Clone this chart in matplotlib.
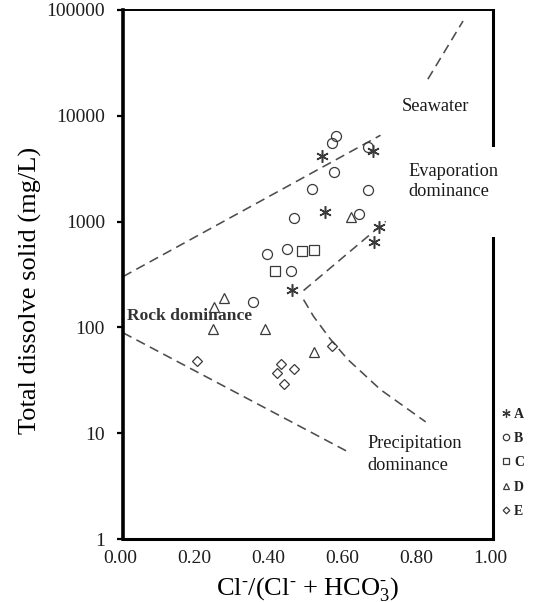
import matplotlib
matplotlib.use("Agg")
import matplotlib.pyplot as plt
from matplotlib.lines import Line2D
from matplotlib.patches import Rectangle
from matplotlib.ticker import NullLocator
import matplotlib.transforms as mtransforms

plt.rcParams['font.family'] = ['Liberation Serif', 'DejaVu Serif']
plt.rcParams['mathtext.fontset'] = 'custom'
plt.rcParams['mathtext.rm'] = 'Liberation Serif'
plt.rcParams['mathtext.it'] = 'Liberation Serif:italic'
plt.rcParams['mathtext.bf'] = 'Liberation Serif:bold'

# ---- data ----
x_A = [0.539, 0.675, 0.547, 0.691, 0.678, 0.458]
y_A = [4140, 4620, 1220, 880, 635, 228]

x_B = [0.575, 0.566, 0.661, 0.569, 0.512, 0.661, 0.461, 0.637, 0.390, 0.442, 0.455, 0.350]
y_B = [6410, 5500, 5050, 2920, 2020, 1970, 1070, 1170, 489, 545, 338, 172]

x_C = [0.485, 0.515, 0.412]
y_C = [522, 534, 338]

x_D = [0.615, 0.274, 0.247, 0.244, 0.385, 0.515]
y_D = [1100, 191, 157, 97, 97, 59]

x_E = [0.201, 0.428, 0.463, 0.415, 0.434, 0.566]
y_E = [48.5, 45, 40.7, 37.3, 29.4, 67]

# Gibbs boundary lines
rock_upper_x = [0.0, 0.696]
rock_upper_y = [302, 6550]
rock_lower_x = [0.0, 0.607]
rock_lower_y = [89, 6.7]
evap_x = [0.488, 0.710]
evap_y = [223, 1005]
precip_x = [0.488, 0.515, 0.561, 0.607, 0.696, 0.818]
precip_y = [183, 127, 77, 50, 25.8, 12.8]
sea_x = [0.824, 0.919]
sea_y = [22200, 78700]

xticks = [0.0, 0.2, 0.4, 0.6, 0.8, 1.0]
xticklabels = ['0.00', '0.20', '0.40', '0.60', '0.80', '1.00']
yticks = [1, 10, 100, 1000, 10000, 100000]
yticklabels = ['1', '10', '100', '1000', '10000', '100000']

groups = ['A', 'B', 'C', 'D', 'E']
markers = [(6, 2, 0), 'o', 's', '^', 'D']
sizes = [9.0, 7.2, 6.6, 7.2, 5.0]
xs = [x_A, x_B, x_C, x_D, x_E]
ys = [y_A, y_B, y_C, y_D, y_E]

# ---- figure ----
fig = plt.figure(figsize=(5.36, 6.02), dpi=100)
ax = fig.add_axes([123/536, 63/602, 370/536, 529/602])
ax.set_yscale('log')
ax.set_xlim(0, 1)
ax.set_ylim(1, 100000)

lc = '#4d4d4d'
dash = (6, 3.5)
for lx, ly in [(rock_upper_x, rock_upper_y), (rock_lower_x, rock_lower_y),
               (evap_x, evap_y), (precip_x, precip_y), (sea_x, sea_y)]:
    ax.plot(lx, ly, color=lc, lw=1.15, dashes=dash, zorder=2)

ec = '#3a3a3a'
for g, m, s, x, y in zip(groups, markers, sizes, xs, ys):
    ax.plot(x, y, linestyle='none', marker=m, markersize=s,
            markerfacecolor='none', markeredgecolor=ec,
            markeredgewidth=1.1 if g == 'A' else 0.9, zorder=3)

# ---- axes style ----
ax.set_xticks(xticks)
ax.set_xticklabels(xticklabels)
ax.set_yticks(yticks)
ax.set_yticklabels(yticklabels)
ax.yaxis.set_minor_locator(NullLocator())
ax.xaxis.set_minor_locator(NullLocator())
ax.tick_params(axis='x', length=0, pad=8, labelsize=14, labelcolor='#1e1e1e')
ax.tick_params(axis='y', length=4, width=1.6, direction='out', pad=9,
               labelsize=14, labelcolor='#1e1e1e')
off = mtransforms.ScaledTranslation(-3/100, 0, fig.dpi_scale_trans)
for lab in ax.get_xticklabels():
    lab.set_transform(lab.get_transform() + off)

ax.spines['left'].set_linewidth(2.6)
ax.spines['bottom'].set_linewidth(2.2)
ax.spines['top'].set_linewidth(1.4)
ax.spines['right'].set_linewidth(2.2)

# gap in right spine behind the "Evaporation dominance" label
ax.add_patch(Rectangle((0.95, 0.571), 0.08, 0.170, transform=ax.transAxes,
                       facecolor='white', edgecolor='none', clip_on=False,
                       zorder=3))

ax.set_xlabel(r'Cl$^{\text{-}}$/(Cl$^{\text{-}}$ + HCO$_{3}^{\text{-}}$)',
              fontsize=19, labelpad=6)
ax.set_ylabel('Total dissolve solid (mg/L)', fontsize=19)
ax.yaxis.set_label_coords(-0.25, 0.47)
ax.yaxis.label.set_verticalalignment('center')

tc = '#1a1a1a'
ax.text(0.753, 12330, 'Seawater', fontsize=13.2, color=tc, va='center', ha='left', zorder=4)
ax.text(0.772, 2990, 'Evaporation', fontsize=13.2, color=tc, va='center', ha='left', zorder=4)
ax.text(0.772, 1930, 'dominance', fontsize=13.2, color=tc, va='center', ha='left', zorder=4)
ax.text(0.661, 7.94, 'Precipitation', fontsize=13.2, color=tc, va='center', ha='left', zorder=4)
ax.text(0.661, 4.91, 'dominance', fontsize=13.2, color=tc, va='center', ha='left', zorder=4)
ax.text(0.011, 129, 'Rock dominance', fontsize=12.6, color='#333333',
        fontweight='bold', va='center', ha='left', zorder=4)

# ---- legend ----
leg_sizes = [6.0, 4.6, 4.3, 4.8, 3.4]
handles = [Line2D([], [], linestyle='none', marker=m, markersize=s,
                  markerfacecolor='none', markeredgecolor=ec, markeredgewidth=0.9)
           for m, s in zip(markers, leg_sizes)]
leg = ax.legend(handles, groups, loc='upper left', bbox_to_anchor=(1.021, 0.248),
                frameon=False, handlelength=0.8, handletextpad=0.15,
                labelspacing=0.81, borderpad=0, borderaxespad=0,
                prop={'weight': 'bold', 'size': 10})
for t in leg.get_texts():
    t.set_color('#222222')

fig.savefig('out.png', dpi=100)
